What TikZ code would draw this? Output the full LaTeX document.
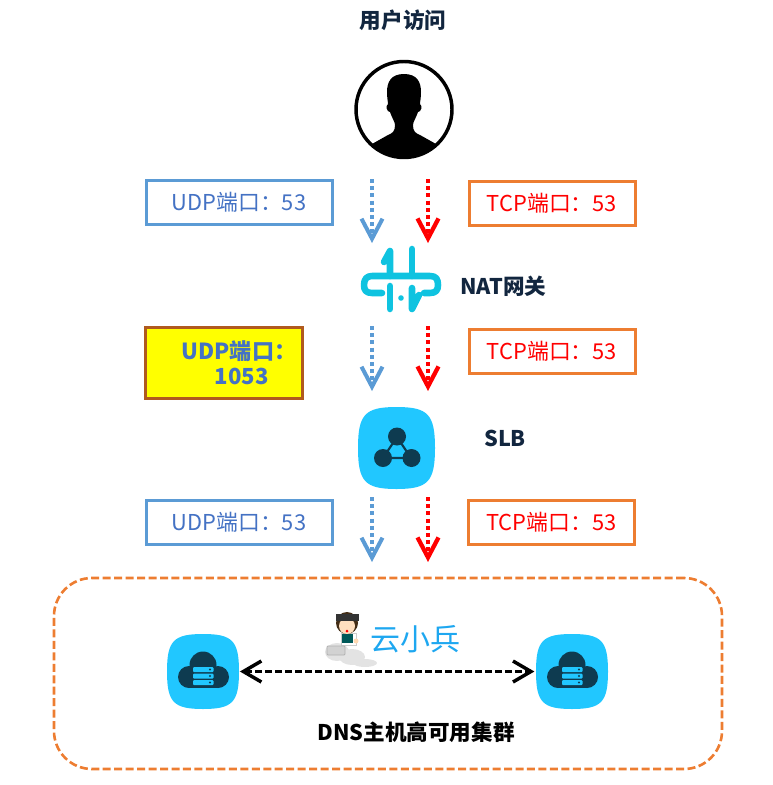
\documentclass[tikz,border=0pt]{standalone}
\usepackage{fontspec}
\setmainfont{Noto Sans CJK SC}
\usetikzlibrary{arrows.meta}
\definecolor{navy}{HTML}{12263F}
\definecolor{udpline}{HTML}{5B9BD5}
\definecolor{tcpline}{HTML}{ED7D31}
\definecolor{udptext}{HTML}{4472C4}
\definecolor{rust}{HTML}{B05A1E}
\definecolor{pureyellow}{HTML}{FFFF00}
\definecolor{iconblue}{HTML}{21C7FF}
\definecolor{icondark}{HTML}{0E3B50}
\definecolor{natcyan}{HTML}{0FC3E0}
\definecolor{logoblue}{HTML}{1EA7F0}
\tikzset{
  x=0.75pt,y=-0.75pt,
  portbox/.style={draw,line width=2.25pt,fill=white,inner sep=0pt,minimum height=33pt,font=\fontsize{16.4pt}{18pt}\selectfont},
  udpbox/.style={portbox,draw=udpline,text=udptext,minimum width=139.5pt},
  tcpbox/.style={portbox,draw=tcpline,text=red,minimum width=124.5pt},
  title/.style={inner sep=0pt,text=navy,font=\fontsize{16.2pt}{18pt}\selectfont\bfseries},
  flow/.style={dash pattern=on 3pt off 2.4pt,-{Straight Barb[length=15pt,width=15.75pt]}},
  udpflow/.style={flow,draw=udpline,line width=3pt},
  tcpflow/.style={flow,draw=red,line width=3.2pt},
  iconbox/.style={draw=none,inner sep=0pt},
  natline/.style={draw=natcyan,line width=4.9pt,line cap=round,line join=round},
}
% squircle behind an icon: centre x, centre y, half width, half height
\newcommand{\squircle}[4]{%
  \fill[iconblue] (#1,#2-#4)
    .. controls (#1+0.82*#3,#2-#4) and (#1+#3,#2-0.82*#4) .. (#1+#3,#2)
    .. controls (#1+#3,#2+0.82*#4) and (#1+0.82*#3,#2+#4) .. (#1,#2+#4)
    .. controls (#1-0.82*#3,#2+#4) and (#1-#3,#2+0.82*#4) .. (#1-#3,#2)
    .. controls (#1-#3,#2-0.82*#4) and (#1-0.82*#3,#2-#4) .. (#1,#2-#4) -- cycle;}
\newcommand{\cloudicon}[1]{%
  \begin{scope}[shift={(#1,0)}]
    \fill[icondark] (203,665) circle (13.5);
    \fill[icondark] (189,677) circle (11);
    \fill[icondark] (218,677) circle (11);
    \fill[icondark] (189,671) rectangle (218,688);
    \foreach \yy in {667,673.5,680}{
      \fill[iconblue,rounded corners=0.75pt] (193,\yy) rectangle (213.5,\yy+5);
      \fill[icondark] (210,\yy+2.5) circle (1.2);
    }
  \end{scope}}
\begin{document}
\begin{tikzpicture}
\useasboundingbox (0,0) rectangle (772,785);
% titles
\node[title] (tuser) at (403,20) {用户访问};
% person
\begin{scope}
  \clip (404,109.5) circle (49);
  \fill[black] (404,74)
    .. controls (391,74) and (387,82) .. (387,92)
    .. controls (387,98) and (388,102) .. (388,104)
    .. controls (385,106) and (387,112) .. (390,112)
    .. controls (392,118) and (395,122) .. (395,125)
    .. controls (395,131) and (393,133) .. (388,135)
    -- (372,144) -- (372,170) -- (436,170) -- (436,144) -- (420,135)
    .. controls (415,133) and (413,131) .. (413,125)
    .. controls (413,122) and (416,118) .. (418,112)
    .. controls (421,112) and (423,106) .. (420,104)
    .. controls (420,102) and (421,98) .. (421,92)
    .. controls (421,82) and (417,74) .. (404,74) -- cycle;
\end{scope}
\node[circle,draw=black,line width=2.6pt,minimum size=72pt,inner sep=0pt] (user) at (404,109.5) {};
% row 1
\node[udpbox] (u1) at (239,202) {UDP端口：53};
\node[tcpbox] (t1) at (552,203.5) {TCP端口：53};
\coordinate (a1s) at (372,179); \coordinate (a1e) at (372,243);
\coordinate (b1s) at (428,179); \coordinate (b1e) at (428,243);
\draw[udpflow] (a1s) -- (a1e);
\draw[tcpflow] (b1s) -- (b1e);
% NAT icon
\draw[natline] (382,293) -- (372,293) .. controls (366,293) and (364,290) .. (364,285) .. controls (364,279) and (367,276) .. (372,276) -- (430,276) .. controls (436,276) and (438,279) .. (438,285) .. controls (438,290) and (436,293) .. (430,293) -- (424,293);
\draw[natline] (390,251) -- (390,276) (390,251) -- (384,262);
\draw[natline] (412,249) -- (412,276);
\draw[natline] (390,286) -- (390,309);
\draw[natline] (412,288) -- (412,309) (412,309) -- (419,295);
\fill[natcyan] (401,298) circle (2.8);
\node[title,anchor=west] (nat) at (460,286) {NAT网关};
% row 2
\node[draw=rust,line width=2.25pt,fill=pureyellow,minimum width=117.5pt,minimum height=53pt,inner sep=0pt] (u2) at (224,363) {};
\node[inner sep=0pt,text=udptext,align=center,font=\fontsize{16.6pt}{18.7pt}\selectfont\bfseries] (u2t) at (239,363) {UDP端口：\\\hspace*{4pt}1053};
\node[tcpbox] (t2) at (552,351.5) {TCP端口：53};
\coordinate (a2s) at (372,326); \coordinate (a2e) at (372,391);
\coordinate (b2s) at (428,326); \coordinate (b2e) at (428,391);
\draw[udpflow] (a2s) -- (a2e);
\draw[tcpflow] (b2s) -- (b2e);
% SLB icon
\squircle{396.5}{448}{38.5}{41}
\node[iconbox,minimum width=57.75pt,minimum height=61.5pt] (slb) at (396.5,448) {};
\draw[icondark,line width=1.65pt] (397,437) -- (383,458) -- (411,458) -- cycle;
\fill[icondark] (397,436.5) circle (9) (383,458) circle (9) (411.5,458) circle (9);
\node[title,anchor=west] (slbt) at (484,438.5) {SLB};
% row 3
\node[udpbox] (u3) at (239,522) {UDP端口：53};
\node[tcpbox] (t3) at (551.5,522.5) {TCP端口：53};
\coordinate (a3s) at (372,497); \coordinate (a3e) at (372,562);
\coordinate (b3s) at (428,497); \coordinate (b3e) at (428,562);
\draw[udpflow] (a3s) -- (a3e);
\draw[tcpflow] (b3s) -- (b3e);
% cluster
\node[draw=tcpline,line width=1.95pt,dash pattern=on 6pt off 2.6pt,rounded corners=28.5pt,minimum width=501pt,minimum height=143.25pt,inner sep=0pt] (cluster) at (388,673.5) {};
\squircle{203}{671.5}{36}{37.5}
\squircle{572}{671.5}{36}{37.5}
\node[iconbox,minimum width=54pt,minimum height=56.25pt] (h1) at (203,671.5) {};
\node[iconbox,minimum width=54pt,minimum height=56.25pt] (h2) at (572,671.5) {};
\cloudicon{0}
\cloudicon{369}
% mascot
\fill[gray!22] (337,652) ellipse (12 and 9) (352,657) ellipse (13 and 8) (365,663) ellipse (12 and 4);
\fill[white,draw=gray!40,line width=0.4pt] (341,633) rectangle (356,645);
\fill[gray!35,rounded corners=0.75pt,draw=gray!60,line width=0.6pt] (327,646) rectangle (345,655);
\fill[black!65!brown] (347,623) circle (11);
\fill[orange!25] (347,626) circle (8);
\fill[black!80] (336,614) rectangle (359,621);
\fill[red] (347,631) circle (1.5);
\fill[teal!70!black] (342,634) rectangle (353,643);
\fill[orange!30] (356,641) circle (2.5);
\node[inner sep=0pt,text=logoblue,font=\fontsize{22.5pt}{24pt}\selectfont] (logo) at (415,639) {云小兵};
% peer link
\draw[black,line width=2.6pt,dash pattern=on 5.25pt off 2.25pt,{Straight Barb[length=13.5pt,width=15.75pt]}-{Straight Barb[length=13.5pt,width=15.75pt]},shorten <=0.5pt,shorten >=1pt] (h1.east) -- (h2.west);
\node[inner sep=0pt,text=black,font=\fontsize{16.2pt}{18pt}\selectfont\bfseries] (dns) at (416,732) {DNS主机高可用集群};
\end{tikzpicture}
\end{document}
